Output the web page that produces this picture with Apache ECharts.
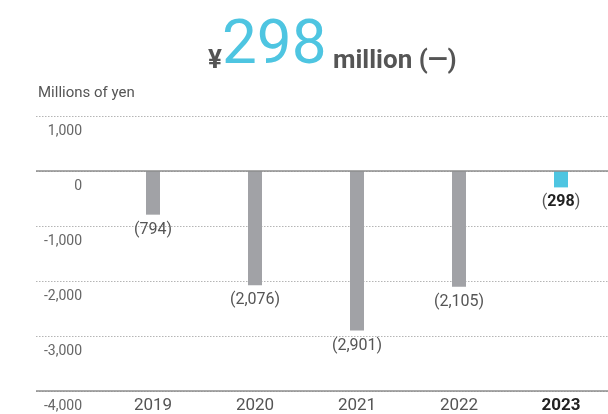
<!DOCTYPE html>
<html><head><meta charset="utf-8">
<script src="https://cdn.jsdelivr.net/npm/echarts@6/dist/echarts.min.js"></script>
<style>html,body{margin:0;padding:0;background:#fff}#c{width:608px;height:414px}</style>
</head><body><div id="c"></div>
<script>
const years = ['2019','2020','2021','2022','2023'];
const values = [-794, -2076, -2901, -2105, -298];
const barColors = ['#a1a2a6','#a1a2a6','#a1a2a6','#a1a2a6','#4ec5e1'];
const yMin = -4000, yMax = 1000, yStep = 1000;
const headline = {yen:'¥', value:'298', rest:' million (—)'};
const unitLabel = 'Millions of yen';

const fmt = v => Math.abs(v).toLocaleString('en-US');
const font = 'Roboto';
const chart = echarts.init(document.getElementById('c'));
chart.setOption({
  animation:false,
  textStyle:{fontFamily:font},
  title:[{
    left:203, top:11,
    text:'{a|'+headline.yen+'}{b|'+headline.value+'}{c|'+headline.rest+'}',
    textStyle:{rich:{
      a:{fontSize:26,color:'#555',fontFamily:font,verticalAlign:'bottom',padding:[0,0,4,0]},
      b:{fontSize:62,color:'#4ec5e1',fontFamily:font,fontWeight:400},
      c:{fontSize:26,color:'#555',fontFamily:font,fontWeight:'bold',verticalAlign:'bottom',padding:[0,0,4,0]}
    }}
  },{
    left:33, top:81, text:unitLabel,
    textStyle:{fontSize:15,color:'#555',fontWeight:'normal',fontFamily:font}
  }],
  grid:[
    {left:36,right:0,top:116,bottom:23,containLabel:false,outerBoundsMode:'none'},
    {left:102,width:510,top:116,bottom:23,containLabel:false,outerBoundsMode:'none'}
  ],
  xAxis:[
    {gridIndex:0,type:'category',data:years,show:false},
    {gridIndex:1,type:'category',data:years,
     axisLine:{show:false},axisTick:{show:false},
     axisLabel:{margin:6,fontSize:17,color:'#555',fontFamily:font,
       formatter:(v,i)=> i===years.length-1 ? '{h|'+v+'}' : v,
       rich:{h:{fontSize:17,fontWeight:'bold',color:'#222',fontFamily:font}}}}
  ],
  yAxis:[
    {gridIndex:0,type:'value',min:yMin,max:yMax,interval:yStep,
     axisLine:{show:false},axisTick:{show:false},
     axisLabel:{inside:true,margin:46,align:'right',verticalAlign:'top',padding:[8,0,0,0],
       fontSize:14,color:'#666',fontFamily:font,
       formatter:v=> v.toLocaleString('en-US')},
     splitLine:{show:true,lineStyle:{type:[1.5,1.5],color:'#b5b5b5',width:1}}},
    {gridIndex:1,type:'value',min:yMin,max:yMax,interval:yStep,show:false,splitLine:{show:false}}
  ],
  series:[
    {type:'line',xAxisIndex:0,yAxisIndex:0,data:[],silent:true,
     markLine:{silent:true,symbol:'none',label:{show:false},
       lineStyle:{type:'solid',color:'#8c8c8c',width:1.5},
       data:[{yAxis:0},{yAxis:yMin}]}},
    {type:'bar',xAxisIndex:1,yAxisIndex:1,barWidth:14,
     data:values.map((v,i)=>({value:v,itemStyle:{color:barColors[i]}})),
     label:{show:true,position:'bottom',distance:7,fontSize:16,color:'#555',fontFamily:font,
       formatter:p=> p.dataIndex===values.length-1 ? '({b|'+fmt(p.value)+'})' : '('+fmt(p.value)+')',
       rich:{b:{fontSize:16,fontWeight:'bold',color:'#222',fontFamily:font}}}}
  ]
});
</script></body></html>
